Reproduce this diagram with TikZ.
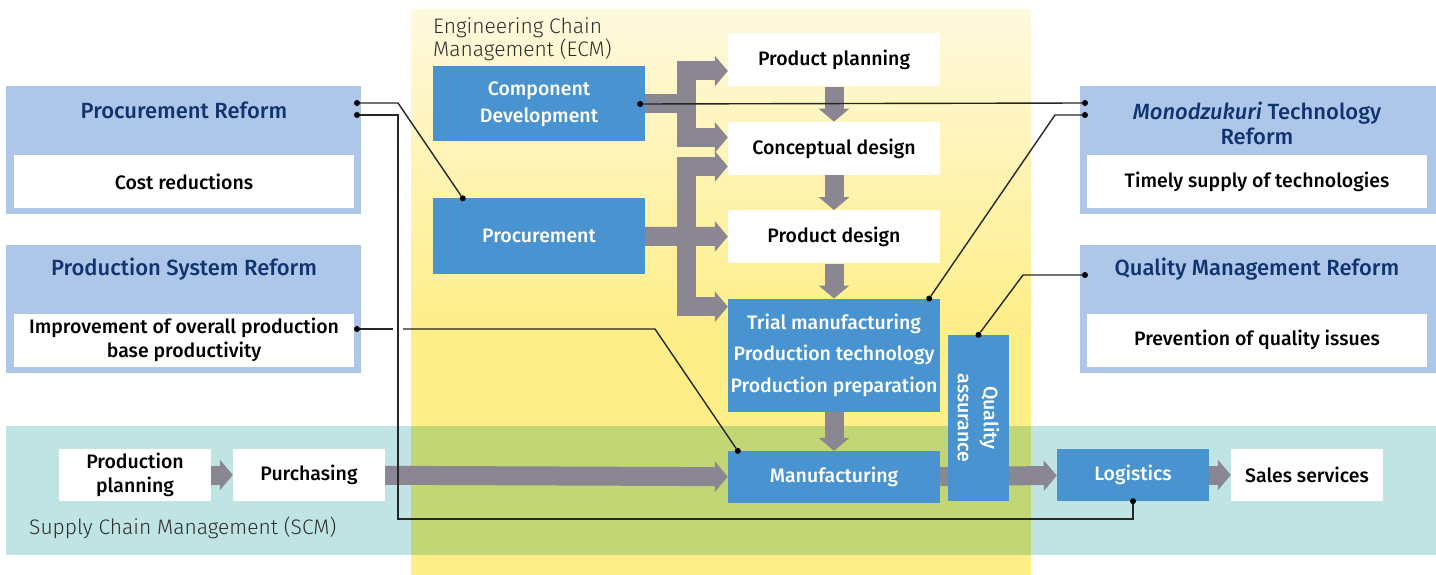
\documentclass[tikz,border=0pt]{standalone}
\usepackage{fontspec}
\setmainfont{Fira Sans}
\newfontfamily\boxfont{Fira Sans Medium}
\newfontfamily\areafont{Fira Sans Light}
\usetikzlibrary{positioning, arrows.meta}
\definecolor{reformblue}{RGB}{174,199,232}
\definecolor{reformtext}{RGB}{16,52,112}
\definecolor{stepblue}{RGB}{72,147,208}
\definecolor{fatgray}{RGB}{138,135,147}
\definecolor{scmteal}{RGB}{192,228,228}
\definecolor{ecmlight}{RGB}{255,249,222}
\definecolor{ecmyellow}{RGB}{254,238,136}
\definecolor{overlapgreen}{RGB}{195,214,118}
\definecolor{areatext}{RGB}{45,45,45}
\tikzset{
  wbox/.style={fill=white, minimum width=212pt, minimum height=53pt, inner sep=0pt,
               align=center, font=\boxfont\fontsize{19.5}{24}\selectfont},
  bbox/.style={wbox, fill=stepblue, text=white},
  sbox/.style={wbox, minimum width=152pt, minimum height=52pt},
  reform/.style={fill=reformblue, minimum width=355pt, minimum height=128pt, inner sep=0pt},
  rtitle/.style={text=reformtext, align=center, inner sep=0pt,
                 font=\boxfont\fontsize{22}{25}\selectfont},
  ritem/.style={wbox, minimum width=340pt},
  arealabel/.style={text=areatext, align=left, inner sep=0pt,
                    font=\areafont\fontsize{21}{23}\selectfont},
  fat/.style={fatgray, line width=19pt, line join=miter,
              -{Triangle[length=13pt, width=30pt]}},
  link/.style={draw=black!85, line width=1.4pt},
  dot/.style={circle, fill=black, inner sep=0pt, minimum size=6pt}
}

\begin{document}
\begin{tikzpicture}[x=1pt, y=-1pt]
  \useasboundingbox (0,0) rectangle (1436,575);
  % supply chain band and engineering chain column
  \fill[scmteal] (6,426) rectangle (1436,555);
  \shade[top color=ecmlight, bottom color=ecmyellow] (411,10) rectangle (1031,330);
  \fill[ecmyellow] (411,330) rectangle (1031,575);
  \fill[overlapgreen] (411,426) rectangle (1031,555);
  \node[arealabel, anchor=north west] (ecmlabel) at (433,17) {Engineering Chain\\Management (ECM)};
  \node[arealabel, anchor=west] (scmlabel) at (29,528) {Supply Chain Management (SCM)};

  % reform boxes, left
  \node[reform] (procref) at (183.5,150) {};
  \node[rtitle] (procreft) at (184,110) {Procurement Reform};
  \node[ritem] (costred) at (184,181.5) {Cost reductions};
  \node[reform] (psysref) at (183.5,309) {};
  \node[rtitle] (psysreft) at (184,269) {Production System Reform};
  \node[ritem] (prodimp) at (184,340) {Improvement of overall production\\base productivity};

  % reform boxes, right
  \node[reform, minimum width=356pt] (monoref) at (1258,150) {};
  \node[rtitle] (monoreft) at (1257,123) {{\itshape Monodzukuri} Technology\\Reform};
  \node[ritem] (timely) at (1257,181.5) {Timely supply of technologies};
  \node[reform, minimum width=356pt] (qualref) at (1258,309) {};
  \node[rtitle] (qualreft) at (1257,269) {Quality Management Reform};
  \node[ritem] (prevent) at (1257,340) {Prevention of quality issues};

  % engineering chain
  \node[bbox, minimum height=75pt, font=\boxfont\fontsize{19.5}{27}\selectfont] (comp) at (539,104) {Component\\Development};
  \node[bbox, minimum height=75pt] (proc) at (539,236) {Procurement};
  \node[wbox] (pp) at (834,60) {Product planning};
  \node[wbox, below=35pt of pp] (cd) {Conceptual design};
  \node[wbox, below=35pt of cd] (pd) {Product design};
  \node[bbox, below=35pt of pd, minimum height=113pt,
        font=\boxfont\fontsize{19.5}{31.5}\selectfont] (trial) {Trial manufacturing\\Production technology\\Production preparation};
  \node[bbox, below=39pt of trial, minimum height=52pt] (mfg) {Manufacturing};

  % supply chain
  \node[sbox] (plan) at (135,475) {Production\\planning};
  \node[sbox] (purch) at (309,475) {Purchasing};
  \node[sbox, fill=stepblue, text=white] (logi) at (1133,475) {Logistics};
  \node[sbox] (sales) at (1307,475) {Sales services};

  % flows
  \draw[fat] (comp.east) -- ++(41.5,0) |- ([yshift=-11pt]pp.west);
  \draw[fat] (comp.east) -- ++(41.5,0) |- ([yshift=11pt]cd.west);
  \draw[fat] (proc.east) -- ++(41.5,0) |- ([yshift=-18pt]cd.west);
  \draw[fat] (proc) -- (pd);
  \draw[fat] (proc.east) -- ++(41.5,0) |- ([yshift=48.5pt]trial.west);
  \draw[fat] (pp) -- (cd);
  \draw[fat] (cd) -- (pd);
  \draw[fat] (pd) -- (trial);
  \draw[fat] (trial) -- (mfg);
  \draw[fat] (plan) -- (purch);
  \draw[fat] (purch) -- (mfg);
  \draw[fat] (mfg) -- (logi);
  \draw[fat] (logi) -- (sales);
  \node[bbox, rotate=-90, minimum width=166pt, minimum height=61pt,
        font=\boxfont\fontsize{19.5}{26}\selectfont] (qa) at (978.5,418) {Quality\\assurance};

  % links from the reforms
  \node[dot] (prA) at (357,103) {};
  \node[dot] (prB) at (357,115) {};
  \node[dot] (procT) at ([xshift=30pt]proc.north west) {};
  \node[dot] (logiB) at (logi.south) {};
  \draw[link] (prA) -- (398,103) -- (procT);
  \draw[link] (prB) -- (398,115) -- (398,519) -| (logiB);
  \node[dot] (psA) at (357,329) {};
  \node[dot] (mfgT) at ([xshift=10pt]mfg.north west) {};
  \draw[link] (psA) -- (393,329);
  \draw[link] (403,329) -- (655,329) -- (mfgT);
  \node[dot] (compR) at ([xshift=-5pt]comp.east) {};
  \node[dot] (mtA) at (1085,103) {};
  \node[dot] (mtB) at (1085,115) {};
  \node[dot] (trialT) at ([xshift=-11pt]trial.north east) {};
  \draw[link] (compR) -- (mtA);
  \draw[link] (mtB) -- (1055,115) -- (trialT);
  \node[dot] (qmA) at (1085,275) {};
  \node[dot] (qaT) at (qa.west) {};
  \draw[link] (qmA) -- (1023,275) -- (qaT);
\end{tikzpicture}
\end{document}
